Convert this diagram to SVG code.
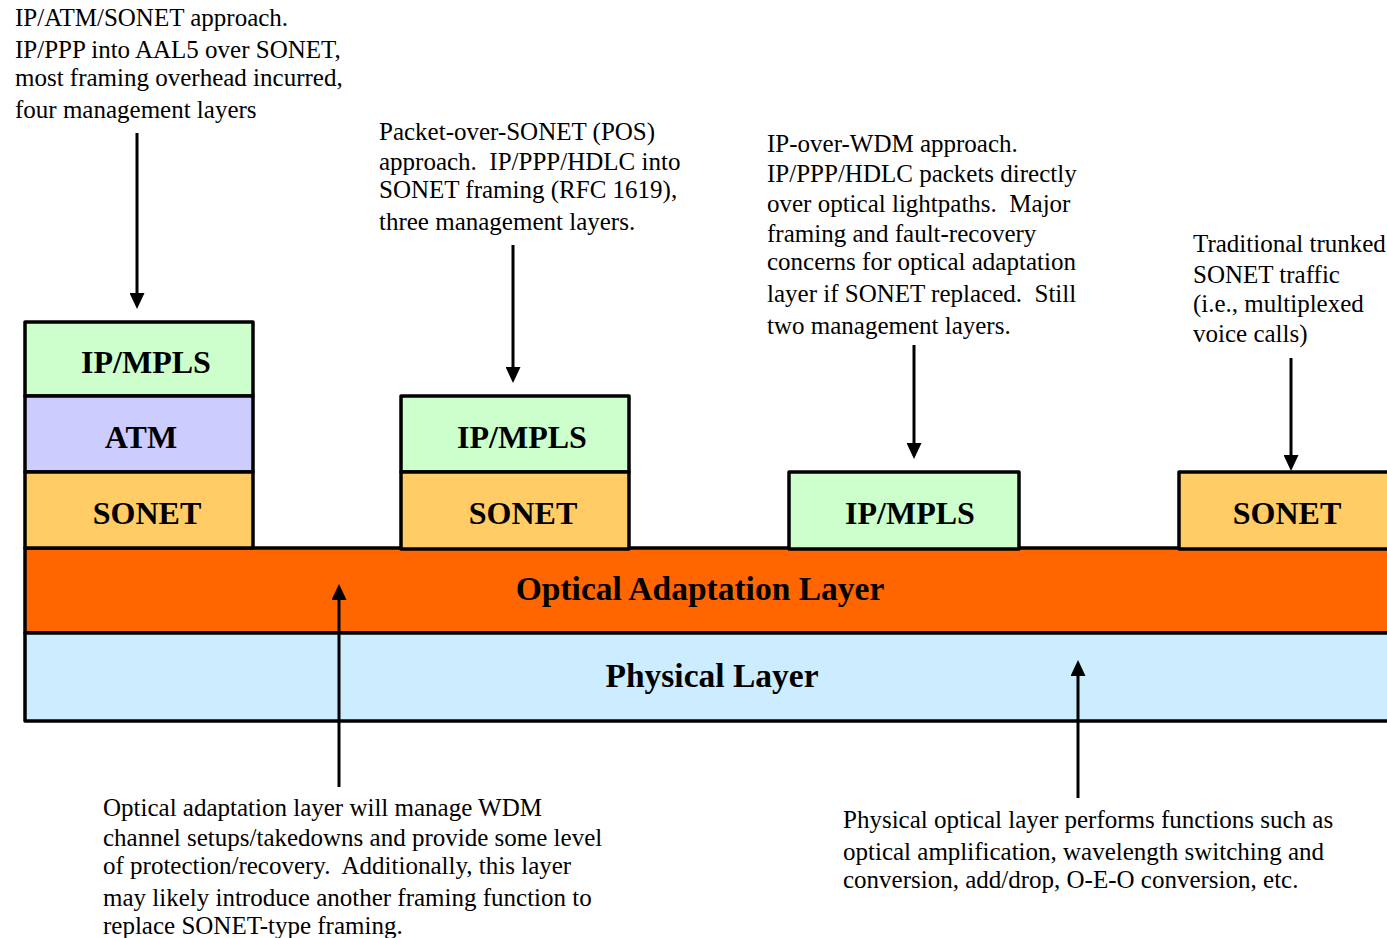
<svg xmlns="http://www.w3.org/2000/svg" width="1387" height="938" viewBox="0 0 1387 938">
  <style>
    .note { font-family: "Liberation Serif", "Times New Roman", serif; font-size: 25px; fill: #000; white-space: pre; }
    .lbl { font-family: "Liberation Serif", "Times New Roman", serif; font-size: 32px; font-weight: bold; fill: #000; text-anchor: middle; }
    .big { font-size: 33.5px; }
    .box { stroke: #000; stroke-width: 3.5; stroke-linejoin: round; }
    .ip { fill: #CCFFCC; }
    .atm { fill: #CCCCFF; }
    .sonet { fill: #FFCC66; }
    .oal { fill: #FF6600; }
    .phy { fill: #CCECFF; }
    .conn { stroke: #000; stroke-width: 3; fill: none; }
  </style>
  <defs>
    <marker id="head" markerWidth="16" markerHeight="15" refX="0" refY="7.5" orient="auto" markerUnits="userSpaceOnUse" viewBox="0 0 16 15">
      <path d="M0,0 L16,7.5 L0,15 Z" fill="#000"/>
    </marker>
  </defs>
  <rect width="1387" height="938" fill="#fff"/>

  <!-- base layers -->
  <g id="optical-adaptation-layer">
    <rect class="box oal" x="25" y="548" width="1400" height="85"/>
    <text class="lbl big" x="700" y="600">Optical Adaptation Layer</text>
  </g>
  <g id="physical-layer">
    <rect class="box phy" x="25" y="633" width="1400" height="88"/>
    <text class="lbl big" x="712" y="687">Physical Layer</text>
  </g>

  <!-- IP / ATM / SONET stack -->
  <g id="stack-ip-atm-sonet">
    <rect class="box ip" x="25" y="322" width="228" height="74"/>
    <rect class="box atm" x="25" y="396" width="228" height="76"/>
    <rect class="box sonet" x="25" y="472" width="228" height="76"/>
    <text class="lbl" x="146" y="373">IP/MPLS</text>
    <text class="lbl" x="141" y="448">ATM</text>
    <text class="lbl" x="147" y="524">SONET</text>
  </g>

  <!-- Packet-over-SONET stack -->
  <g id="stack-pos">
    <rect class="box ip" x="401" y="396" width="228" height="76"/>
    <rect class="box sonet" x="401" y="472" width="228" height="77"/>
    <text class="lbl" x="522" y="448">IP/MPLS</text>
    <text class="lbl" x="523" y="524">SONET</text>
  </g>

  <!-- IP over WDM -->
  <g id="stack-ip-wdm">
    <rect class="box ip" x="789" y="472" width="230" height="77"/>
    <text class="lbl" x="910" y="524">IP/MPLS</text>
  </g>

  <!-- trunked SONET -->
  <g id="stack-sonet">
    <rect class="box sonet" x="1179" y="472" width="230" height="77"/>
    <text class="lbl" x="1287" y="524">SONET</text>
  </g>

  <!-- annotations -->
  <g id="note-ip-atm-sonet">
    <text class="note" xml:space="preserve"><tspan x="15" y="26">IP/ATM/SONET approach.</tspan><tspan x="15" y="58">IP/PPP into AAL5 over SONET,</tspan><tspan x="15" y="86">most framing overhead incurred,</tspan><tspan x="15" y="118">four management layers</tspan></text>
  </g>
  <g id="note-pos">
    <text class="note" xml:space="preserve"><tspan x="379" y="140">Packet-over-SONET (POS)</tspan><tspan x="379" y="170">approach.  IP/PPP/HDLC into</tspan><tspan x="379" y="198">SONET framing (RFC 1619),</tspan><tspan x="379" y="230">three management layers.</tspan></text>
  </g>
  <g id="note-ip-wdm">
    <text class="note" xml:space="preserve"><tspan x="767" y="152">IP-over-WDM approach.</tspan><tspan x="767" y="182">IP/PPP/HDLC packets directly</tspan><tspan x="767" y="212">over optical lightpaths.  Major</tspan><tspan x="767" y="242">framing and fault-recovery</tspan><tspan x="767" y="270">concerns for optical adaptation</tspan><tspan x="767" y="302">layer if SONET replaced.  Still</tspan><tspan x="767" y="334">two management layers.</tspan></text>
  </g>
  <g id="note-sonet">
    <text class="note" xml:space="preserve"><tspan x="1193" y="252">Traditional trunked</tspan><tspan x="1193" y="283">SONET traffic</tspan><tspan x="1193" y="312">(i.e., multiplexed</tspan><tspan x="1193" y="342">voice calls)</tspan></text>
  </g>
  <g id="note-oal">
    <text class="note" xml:space="preserve"><tspan x="103" y="816">Optical adaptation layer will manage WDM</tspan><tspan x="103" y="846">channel setups/takedowns and provide some level</tspan><tspan x="103" y="874">of protection/recovery.  Additionally, this layer</tspan><tspan x="103" y="906">may likely introduce another framing function to</tspan><tspan x="103" y="934">replace SONET-type framing.</tspan></text>
  </g>
  <g id="note-phy">
    <text class="note" xml:space="preserve"><tspan x="843" y="828">Physical optical layer performs functions such as</tspan><tspan x="843" y="860">optical amplification, wavelength switching and</tspan><tspan x="843" y="888">conversion, add/drop, O-E-O conversion, etc.</tspan></text>
  </g>

  <!-- connectors -->
  <g id="connectors">
    <line class="conn" x1="137" y1="133" x2="137" y2="293" marker-end="url(#head)"/>
    <line class="conn" x1="513" y1="245" x2="513" y2="367" marker-end="url(#head)"/>
    <line class="conn" x1="914" y1="345" x2="914" y2="443" marker-end="url(#head)"/>
    <line class="conn" x1="1291" y1="358" x2="1291" y2="455" marker-end="url(#head)"/>
    <line class="conn" x1="339" y1="787" x2="339" y2="600" marker-end="url(#head)"/>
    <line class="conn" x1="1078" y1="798" x2="1078" y2="676" marker-end="url(#head)"/>
  </g>
</svg>
